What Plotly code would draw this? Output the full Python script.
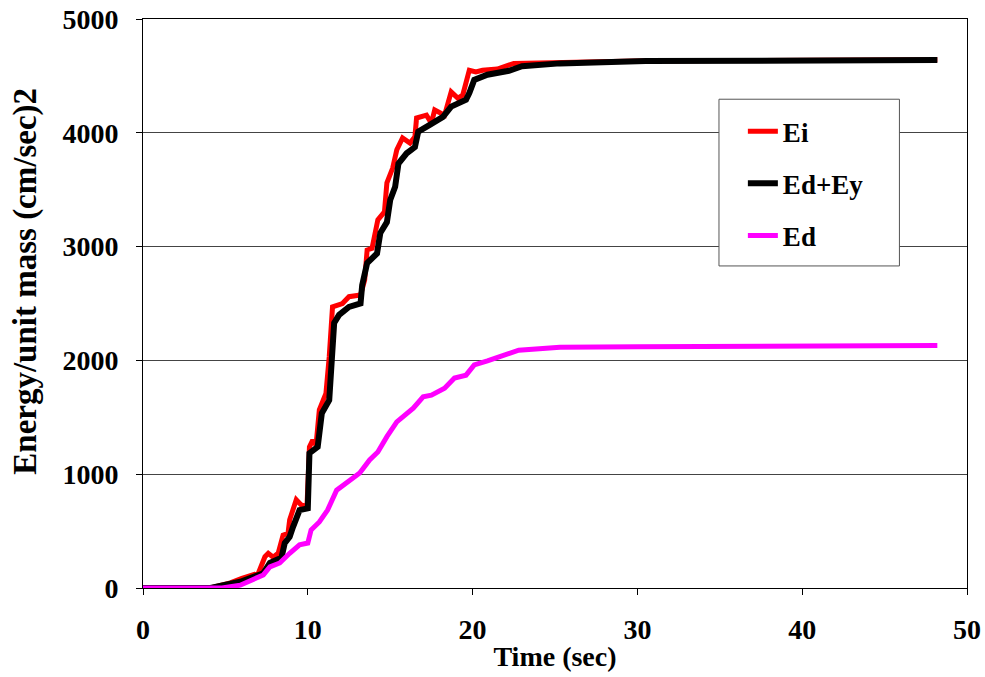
import plotly.graph_objects as go

# Input energy Ei (cm/sec)^2 versus time (sec)
t_ei = [0, 2, 4.2, 5.3, 6.0, 7.0, 7.4, 7.6, 7.9, 8.2, 8.5, 8.8, 8.9, 9.3, 9.6, 9.95,
        10.1, 10.3, 10.5, 10.7, 11.1, 11.3, 11.5, 12.1, 12.5, 13.2, 13.45, 13.6,
        13.9, 14.25, 14.65, 14.8, 15.15, 15.4, 15.75, 16.2, 16.5, 16.6, 17.2, 17.5,
        17.7, 18.3, 18.7, 19.1, 19.4, 19.8, 20.2, 20.6, 21.5, 22.5, 24.2, 27, 30,
        35, 40, 45, 48.2]
ei = [0, 0, 5, 45, 85, 130, 275, 305, 270, 305, 465, 480, 600, 775, 730, 715,
      1240, 1300, 1255, 1565, 1710, 2030, 2470, 2500, 2560, 2575, 2705, 2970,
      2985, 3235, 3305, 3560, 3690, 3850, 3955, 3910, 3965, 4130, 4155, 4085,
      4200, 4155, 4360, 4305, 4330, 4550, 4535, 4550, 4560, 4610, 4615, 4627, 4632,
      4635, 4637, 4640, 4642]

# Dissipated plus yield energy Ed+Ey
t_edy = [0, 2, 4.1, 5.9, 7.3, 7.7, 8.4, 8.6, 8.9, 9.1, 9.5, 10.0, 10.1, 10.6,
         10.85, 11.3, 11.45, 11.6, 11.9, 12.5, 13.2, 13.3, 13.6, 14.2, 14.4, 14.8,
         15.0, 15.3, 15.5, 16.0, 16.5, 16.7, 17.4, 18.2, 18.7, 19.6, 19.8, 20.1,
         20.9, 22.2, 23.0, 25.3, 30.5, 38.9, 48.2]
edy = [0, 0, 0, 55, 130, 220, 265, 395, 450, 535, 685, 700, 1185, 1240,
       1535, 1650, 1975, 2330, 2400, 2470, 2500, 2660, 2855, 2940, 3120, 3215,
       3410, 3525, 3730, 3820, 3875, 4010, 4070, 4140, 4230, 4290, 4350, 4465,
       4510, 4545, 4585, 4610, 4630, 4635, 4640]

# Dissipated energy Ed
t_ed = [0, 2, 4.8, 5.9, 6.9, 7.3, 7.7, 8.3, 8.9, 9.5, 10.0, 10.2, 10.7, 11.2,
        11.75, 12.35, 13.15, 13.75, 14.25, 14.8, 15.4, 16.4, 17.0, 17.5, 18.3,
        18.9, 19.6, 20.1, 20.9, 22.8, 25.3, 30, 40, 48.2]
ed = [0, 0, 0, 25, 85, 115, 185, 220, 305, 380, 395, 510, 580, 685,
      860, 930, 1010, 1125, 1195, 1330, 1460, 1580, 1680, 1695, 1755,
      1845, 1870, 1960, 1995, 2090, 2115, 2120, 2128, 2130]

x_ticks = [0, 10, 20, 30, 40, 50]
y_ticks = [0, 1000, 2000, 3000, 4000, 5000]

FONT = "Liberation Serif, Times New Roman, serif"

fig = go.Figure()
fig.add_trace(go.Scatter(x=t_ei, y=ei, name="Ei", mode="lines",
                         line=dict(color="#ff0000", width=5), legendgroup="a"))
fig.add_trace(go.Scatter(x=t_edy, y=edy, name="Ed+Ey", mode="lines",
                         line=dict(color="#000000", width=6), legendgroup="b"))
fig.add_trace(go.Scatter(x=t_ed, y=ed, name="Ed", mode="lines",
                         line=dict(color="#ff00ff", width=5), legendgroup="c"))

# legend frame (white box over the gridlines)
fig.add_shape(type="rect", xref="paper", yref="paper",
              x0=0.699, x1=0.918, y0=0.566, y1=0.859,
              fillcolor="white", line=dict(color="#555555", width=1),
              layer="above")

# vertical axis title
fig.add_annotation(text="Energy/unit mass (cm/sec)2", textangle=-90,
                   xref="paper", yref="paper", x=-0.142, y=0.54,
                   xanchor="center", yanchor="middle", showarrow=False,
                   font=dict(family=FONT, size=33, color="black", weight="bold"))

fig.update_layout(
    width=985, height=677,
    margin=dict(l=143, r=18, t=19, b=89, autoexpand=False),
    paper_bgcolor="white", plot_bgcolor="white",
    font=dict(family=FONT, size=28, color="black", weight="bold"),
    showlegend=True,
    legend=dict(x=0.728, y=0.845, xanchor="left", yanchor="top",
                bgcolor="rgba(0,0,0,0)", borderwidth=0,
                font=dict(family=FONT, size=27, color="black", weight="bold"),
                tracegroupgap=14, traceorder="grouped", itemwidth=30),
)
fig.update_xaxes(range=[0, 50], tickvals=x_ticks, showgrid=False, zeroline=False,
                 showline=True, linecolor="black", linewidth=1, mirror=True,
                 ticks="outside", ticklen=6, tickcolor="black",
                 ticklabelstandoff=10, automargin=False,
                 title=dict(text="Time (sec)", standoff=2,
                            font=dict(family=FONT, size=28, weight="bold")))
fig.update_yaxes(range=[0, 5000], tickvals=y_ticks, showgrid=True,
                 gridcolor="#444444", gridwidth=1, zeroline=False,
                 showline=True, linecolor="black", linewidth=1, mirror=True,
                 ticks="outside", ticklen=6, tickcolor="black",
                 ticklabelstandoff=12, automargin=False)

fig.write_html("out.html")
